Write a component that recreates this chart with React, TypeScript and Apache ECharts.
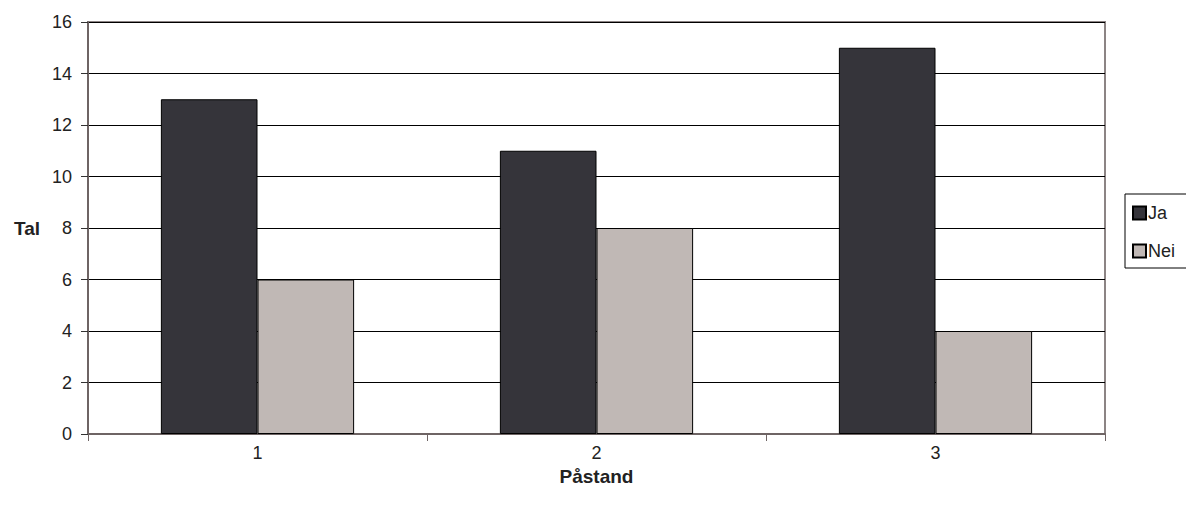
import React, { useEffect, useRef } from "react";
import * as echarts from "echarts";

const categories = ["1", "2", "3"];
const jaValues = [13, 11, 15];
const neiValues = [6, 8, 4];
const seriesNames = ["Ja", "Nei"];

export default function App() {
  const ref = useRef<HTMLDivElement>(null);
  useEffect(() => {
    const chart = echarts.init(ref.current!, null, { renderer: "svg" });
    const font = "'Liberation Sans', Arial, sans-serif";
    chart.setOption({
      animation: false,
      backgroundColor: "#ffffff",
      textStyle: { fontFamily: font },
      grid: {
        left: 88,
        top: 22,
        width: 1017,
        height: 412,
        show: true,
        borderColor: "#8c8484",
        borderWidth: 2,
        backgroundColor: "transparent",
      },
      legend: {
        orient: "vertical",
        left: 1125,
        top: 194,
        data: seriesNames,
        itemWidth: 13,
        itemHeight: 13,
        itemGap: 20,
        padding: [10, 30, 8, 7],
        borderColor: "#000000",
        borderWidth: 1,
        icon: "rect",
        textStyle: { fontSize: 18, color: "#222", fontFamily: font, padding: [0, 0, 0, -3] },
      },
      xAxis: {
        type: "category",
        data: categories,
        name: "Påstand",
        nameLocation: "middle",
        nameGap: 31,
        nameTextStyle: { fontSize: 19, fontWeight: "bold", color: "#222", fontFamily: font },
        axisLine: { show: true, lineStyle: { color: "#6e6464", width: 2 } },
        axisTick: { show: true, alignWithLabel: false, interval: 0, length: 7, lineStyle: { color: "#6e6464" } },
        axisLabel: { fontSize: 18, color: "#222", margin: 10, fontFamily: font },
      },
      yAxis: {
        type: "value",
        min: 0,
        max: 16,
        interval: 2,
        name: "Tal",
        nameLocation: "middle",
        nameRotate: 0,
        nameGap: 48,
        nameTextStyle: { fontSize: 19, fontWeight: "bold", color: "#222", fontFamily: font },
        axisLine: { show: true, lineStyle: { color: "#6e6464", width: 2 } },
        axisTick: { show: true, length: 7, lineStyle: { color: "#333" } },
        axisLabel: { fontSize: 18, color: "#222", margin: 16, fontFamily: font },
        splitLine: { show: true, lineStyle: { color: "#000000", width: 1 } },
      },
      series: [
        {
          name: seriesNames[0],
          type: "bar",
          data: jaValues,
          barGap: "0%",
          barCategoryGap: "43%",
          itemStyle: { color: "#35343a", borderColor: "#000000", borderWidth: 1 },
        },
        {
          name: seriesNames[1],
          type: "bar",
          data: neiValues,
          itemStyle: { color: "#c0b8b5", borderColor: "#000000", borderWidth: 1 },
        },
      ],
    });
    return () => chart.dispose();
  }, []);
  return (
    <div
      ref={ref}
      style={{ position: "fixed", left: 0, top: 0, width: 1186, height: 510 }}
    />
  );
}
